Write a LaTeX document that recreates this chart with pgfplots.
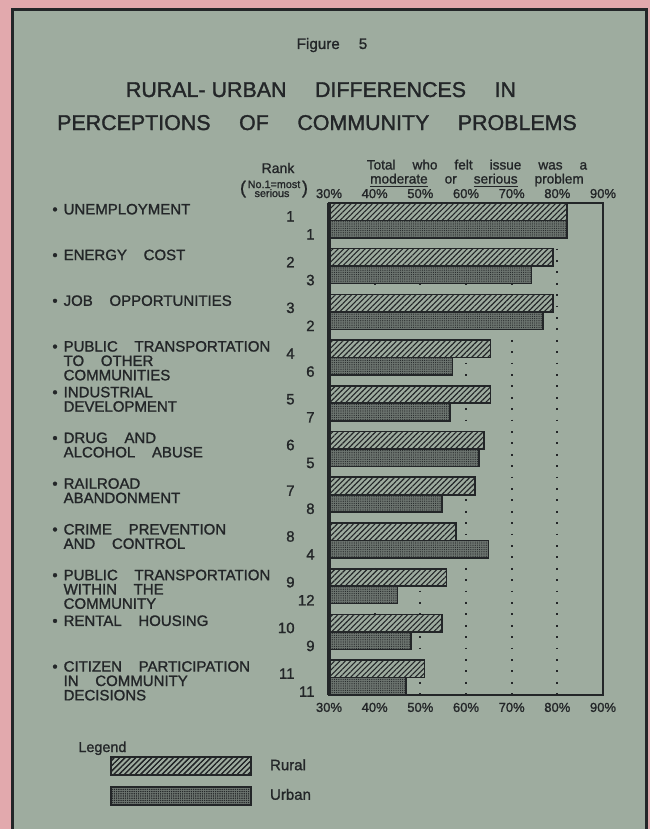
\documentclass[border=0pt]{standalone}
\usepackage{fontspec}
\setmainfont{Liberation Sans}[WordSpace=4.5, FakeBold=1.2]
\newfontfamily\titlefont{Liberation Sans}[WordSpace=4.8, FakeBold=1.5]
\newfontfamily\catfont{Liberation Sans}[WordSpace=4, FakeBold=1.3]
\usepackage{pgfplots}
\pgfplotsset{compat=1.18}
\usetikzlibrary{patterns.meta}
\definecolor{pinkbg}{RGB}{226,169,173}
\definecolor{panel}{RGB}{158,172,159}
\definecolor{ink}{RGB}{35,38,40}
\definecolor{urbanfill}{RGB}{108,116,111}
\newcommand\labfont{\catfont\fontsize{7.5}{6.5}\selectfont}
\newcommand\ticfont{\fontsize{6.5}{7}\selectfont}
\newcommand\cat[2]{\node[anchor=base west, font=\labfont, text=ink, inner sep=0pt, xshift=-138.5pt, yshift=3pt] at (axis cs:30,#1) {\begin{tabular}[t]{@{}l@{\hspace{3pt}}l@{}}\textbullet & #2\end{tabular}};}
\newcommand\rk[3]{\node[anchor=east, font=\labfont, text=ink, inner sep=0pt, xshift=-17pt, yshift=2pt] at (axis cs:30,#1) {#2};
\node[anchor=east, font=\labfont, text=ink, inner sep=0pt, xshift=-7pt, yshift=-7pt] at (axis cs:30,#1) {#3};}
\begin{document}
\begin{tikzpicture}
\begin{scope}[x=0.5pt,y=-0.5pt]
\path[use as bounding box, fill=pinkbg] (0,0) rectangle (650,829);
\draw[fill=panel, draw=ink, line width=1.5pt] (12.5,9.5) rectangle (646.5,845);
\node[anchor=base, font=\fontsize{7.6}{9}\selectfont, text=ink, inner sep=0pt] at (332,49) {Figure 5};
\node[anchor=base, font=\titlefont\fontsize{10.7}{12}\selectfont, text=ink, inner sep=0pt] at (321,97) {RURAL-\kern3pt URBAN DIFFERENCES IN};
\node[anchor=base, font=\titlefont\fontsize{10.7}{12}\selectfont, text=ink, inner sep=0pt] at (317,130) {PERCEPTIONS OF COMMUNITY PROBLEMS};
\node[anchor=base, font=\fontsize{7}{8}\selectfont, text=ink, inner sep=0pt] at (278,173) {Rank};
\node[anchor=base, font=\fontsize{5.4}{5}\selectfont, text=ink, inner sep=0pt] at (274,188) {No.1=most};
\node[anchor=base, font=\fontsize{5.4}{5}\selectfont, text=ink, inner sep=0pt] at (272,197) {serious};
\node[font=\fontsize{9}{9}\selectfont, text=ink, inner sep=0pt] at (243,189) {(};
\node[font=\fontsize{9}{9}\selectfont, text=ink, inner sep=0pt] at (305,189) {)};
\node[anchor=base, font=\fontsize{6.8}{8}\selectfont, text=ink, inner sep=0pt] at (477,169.5) {Total who felt issue was a};
\node[anchor=base, font=\fontsize{6.8}{8}\selectfont, text=ink, inner sep=0pt] at (477,183.5) {\underline{moderate} or \underline{serious} problem};
\node[anchor=base west, font=\fontsize{7.2}{8}\selectfont, text=ink, inner sep=0pt] at (78,752) {Legend};
\end{scope}
% bars
\begin{axis}[
  at={(164.5pt,-101.5pt)}, anchor=north west,
  scale only axis, width=137pt, height=246pt,
  xmin=30, xmax=90, ymin=-0.38, ymax=10.38, y dir=reverse,
  xbar, bar width=0.382,
  ytick=\empty, xtick={30,40,...,90},
  xticklabels={30\%,40\%,50\%,60\%,70\%,80\%,90\%},
  major tick length=0pt,
  xticklabel style={font=\ticfont, text=ink, inner sep=0pt, yshift=-3.7pt},
  xmajorgrids, grid style={ink, line width=0.9pt, dash pattern=on 0.9pt off 4.8pt},
  axis line style={draw=none},
  legend style={at={(-0.799,-0.124)}, anchor=north west, draw=none, fill=none,
    inner sep=0pt, row sep=5pt, column sep=9pt, font=\labfont,
    nodes={inner sep=0pt, text=ink}},
  legend cell align=left,
]
\addplot[draw=ink, line width=0.8pt, fill=panel,
  postaction={pattern={Lines[angle=45,distance=1.9pt,line width=0.55pt]}, pattern color=ink},
  bar shift=-0.191,
  legend image code/.code={\draw[draw=ink, line width=0.8pt, fill=panel, postaction={pattern={Lines[angle=45,distance=1.9pt,line width=0.55pt]}, pattern color=ink}] (0pt,-4.5pt) rectangle (70pt,4.5pt);}]
  coordinates {(82.1,0) (79.0,1) (79.0,2) (65.4,3) (65.4,4) (63.9,5) (62.0,6) (57.8,7) (55.7,8) (54.8,9) (50.9,10)};
\addplot[draw=ink, line width=0.8pt, fill=urbanfill,
  postaction={pattern={Dots[distance=1.1pt,radius=0.3pt]}, pattern color=ink},
  bar shift=0.191,
  legend image code/.code={\draw[draw=ink, line width=0.8pt, fill=urbanfill, postaction={pattern={Dots[distance=1.1pt,radius=0.3pt]}, pattern color=ink}] (0pt,-4.5pt) rectangle (70pt,4.5pt);}]
  coordinates {(82.1,0) (74.3,1) (76.9,2) (57.0,3) (56.5,4) (62.8,5) (54.8,6) (64.9,7) (45.0,8) (47.9,9) (46.9,10)};
\legend{Rural,Urban}
\end{axis}
% frame, top labels, text
\begin{axis}[
  at={(164.5pt,-101.5pt)}, anchor=north west,
  scale only axis, width=137pt, height=246pt,
  xmin=30, xmax=90, ymin=-0.38, ymax=10.38, y dir=reverse,
  clip=false,
  ytick=\empty, xtick={30,40,...,90},
  xticklabels={30\%,40\%,50\%,60\%,70\%,80\%,90\%},
  xticklabel pos=upper,
  major tick length=0pt,
  xticklabel style={font=\ticfont, text=ink, inner sep=0pt, yshift=2.2pt},
  axis line style={ink, line width=1pt},
]
\addplot[draw=none, forget plot] coordinates {(30,0)};
\draw[ink, line width=1.6pt] (axis cs:30,-0.38) -- (axis cs:30,10.38);
\cat{0}{UNEMPLOYMENT}
\cat{1}{ENERGY COST}
\cat{2}{JOB OPPORTUNITIES}
\cat{3}{PUBLIC TRANSPORTATION\\ & TO OTHER\\ & COMMUNITIES}
\cat{4}{INDUSTRIAL\\ & DEVELOPMENT}
\cat{5}{DRUG AND\\ & ALCOHOL ABUSE}
\cat{6}{RAILROAD\\ & ABANDONMENT}
\cat{7}{CRIME PREVENTION\\ & AND CONTROL}
\cat{8}{PUBLIC TRANSPORTATION\\ & WITHIN THE\\ & COMMUNITY}
\cat{9}{RENTAL HOUSING}
\cat{10}{CITIZEN PARTICIPATION\\ & IN COMMUNITY\\ & DECISIONS}
\rk{0}{1}{1}
\rk{1}{2}{3}
\rk{2}{3}{2}
\rk{3}{4}{6}
\rk{4}{5}{7}
\rk{5}{6}{5}
\rk{6}{7}{8}
\rk{7}{8}{4}
\rk{8}{9}{12}
\rk{9}{10}{9}
\rk{10}{11}{11}
\end{axis}
\end{tikzpicture}
\end{document}
